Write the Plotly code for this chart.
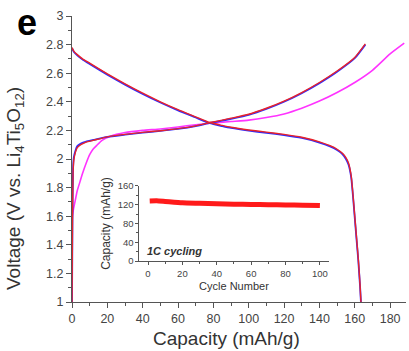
import plotly.graph_objects as go

# Main panel: discharge curves (capacity mAh/g, voltage V)
dis_x = [0, 1, 3, 6, 10, 20, 30, 40, 50, 60, 70, 78, 85, 90, 100, 110, 120, 130, 140, 146, 150, 153, 155, 156.5, 158, 159, 160, 161, 162, 163, 163.5]
dis_red_y = [2.78, 2.755, 2.73, 2.70, 2.67, 2.595, 2.525, 2.46, 2.40, 2.345, 2.295, 2.255, 2.235, 2.222, 2.203, 2.188, 2.172, 2.152, 2.12, 2.093, 2.068, 2.04, 2.01, 1.97, 1.88, 1.75, 1.6, 1.45, 1.3, 1.12, 1.0]
dis_blue_y = [2.775, 2.75, 2.725, 2.695, 2.665, 2.59, 2.52, 2.455, 2.395, 2.34, 2.29, 2.25, 2.23, 2.217, 2.198, 2.183, 2.167, 2.147, 2.115, 2.088, 2.063, 2.035, 2.0, 1.96, 1.87, 1.74, 1.59, 1.44, 1.29, 1.11, 1.0]

# Charge curves
ch_x = [0, 0.3, 0.6, 1, 2, 3, 5, 8, 12, 20, 30, 40, 50, 60, 70, 78, 85, 90, 100, 110, 120, 130, 140, 150, 160, 166]
ch_red_y = [1.0, 1.6, 1.9, 1.99, 2.05, 2.08, 2.1, 2.118, 2.13, 2.155, 2.172, 2.186, 2.198, 2.212, 2.232, 2.255, 2.272, 2.285, 2.313, 2.355, 2.405, 2.465, 2.535, 2.615, 2.71, 2.805]
ch_blue_y = [1.0, 1.65, 1.93, 2.01, 2.06, 2.09, 2.108, 2.122, 2.133, 2.155, 2.17, 2.184, 2.196, 2.21, 2.23, 2.252, 2.268, 2.281, 2.309, 2.35, 2.4, 2.46, 2.53, 2.61, 2.705, 2.8]

mg_x = [0, 0.2, 1, 2, 3, 4.5, 6, 8, 10, 12, 14, 17, 21.5, 30, 40, 50, 60, 70, 78, 90, 100, 110, 120, 130, 140, 150, 160, 170, 180, 188]
mg_y = [1.0, 1.6, 1.66, 1.72, 1.78, 1.84, 1.9, 1.97, 2.03, 2.07, 2.095, 2.13, 2.158, 2.185, 2.2, 2.21, 2.224, 2.24, 2.25, 2.262, 2.272, 2.29, 2.315, 2.355, 2.405, 2.465, 2.535, 2.62, 2.735, 2.81]

# Inset: cycling
cyc_x = [1, 5, 10, 20, 30, 40, 50, 60, 70, 80, 90, 100]
cyc_y = [128, 128.5, 127, 124, 123, 122, 121, 120.5, 120, 119.5, 119, 118]

x_ticks = [0, 20, 40, 60, 80, 100, 120, 140, 160, 180]
y_ticks = [1, 1.2, 1.4, 1.6, 1.8, 2, 2.2, 2.4, 2.6, 2.8, 3]
y_labels = ["1", "1.2", "1.4", "1.6", "1.8", "2", "2.2", "2.4", "2.6", "2.8", "3"]
inset_x_ticks = [0, 20, 40, 60, 80, 100]
inset_y_ticks = [0, 40, 80, 120, 160]

FONT = "Liberation Sans, Arial, sans-serif"
fig = go.Figure()

def add(x, y, color, width=1.6, xa="x", ya="y"):
    fig.add_trace(go.Scatter(x=x, y=y, mode="lines", xaxis=xa, yaxis=ya,
                             line=dict(color=color, width=width, shape="spline", smoothing=0.5),
                             showlegend=False, hoverinfo="skip"))

add(mg_x, mg_y, "#ff33ff", 1.6)
add(dis_x, dis_blue_y, "#2b2bff", 1.8)
add(ch_x, ch_blue_y, "#2b2bff", 1.8)
add(dis_x, dis_red_y, "#e8232a", 1.4)
add(ch_x, ch_red_y, "#e8232a", 1.4)
add(cyc_x, cyc_y, "#ff1a1a", 5, "x2", "y2")

axcol = "#555555"
fig.update_layout(
    width=409, height=351,
    margin=dict(l=72, r=3, t=16, b=49),
    paper_bgcolor="white", plot_bgcolor="white",
    font=dict(family=FONT, color="#444444"),
    xaxis=dict(range=[0, 189], tickvals=x_ticks, showgrid=False, zeroline=False,
               showline=True, linecolor=axcol, linewidth=1.2,
               ticks="outside", ticklen=5, tickcolor=axcol, tickwidth=1,
               minor=dict(ticks="outside", ticklen=3, dtick=10, tickcolor=axcol, showgrid=False),
               tickfont=dict(size=12.5, color="#444444")),
    yaxis=dict(range=[1, 3], tickvals=y_ticks, ticktext=y_labels, showgrid=False, zeroline=False,
               showline=True, linecolor=axcol, linewidth=1.2,
               ticks="outside", ticklen=5, tickcolor=axcol, tickwidth=1,
               minor=dict(ticks="outside", ticklen=3, dtick=0.1, tickcolor=axcol, showgrid=False),
               tickfont=dict(size=12.5, color="#444444")),
    xaxis2=dict(domain=[0.2018, 0.768], anchor="y2", range=[-5, 105], tickvals=inset_x_ticks,
                showgrid=False, zeroline=False, showline=True, linecolor=axcol, linewidth=1,
                ticks="outside", ticklen=3, tickcolor=axcol,
                minor=dict(ticks="outside", ticklen=2, dtick=10, tickcolor=axcol, showgrid=False),
                tickfont=dict(size=9.5, color="#444444"),
                title=dict(text="Cycle Number", font=dict(size=11, color="#333333"), standoff=4)),
    yaxis2=dict(domain=[0.143, 0.406], anchor="x2", range=[0, 160], tickvals=inset_y_ticks,
                showgrid=False, zeroline=False, showline=True, linecolor=axcol, linewidth=1,
                ticks="outside", ticklen=3, tickcolor=axcol,
                minor=dict(ticks="outside", ticklen=2, dtick=20, tickcolor=axcol, showgrid=False),
                tickfont=dict(size=9.5, color="#444444"),
                title=dict(text="Capacity (mAh/g)", font=dict(size=12, color="#333333"), standoff=4)),
    annotations=[
        dict(text="<b>e</b>", xref="paper", yref="paper", x=-0.17, y=1.055, xanchor="left", yanchor="top",
             showarrow=False, font=dict(size=36, color="black", family=FONT)),
        dict(text="Capacity (mAh/g)", xref="paper", yref="paper", x=(226 - 72) / 334, y=-0.127,
             xanchor="center", yanchor="middle", showarrow=False,
             font=dict(size=19, color="#333333", family=FONT)),
        dict(text="Voltage (V vs. Li<sub>4</sub>Ti<sub>5</sub>O<sub>12</sub>)", xref="paper", yref="paper",
             x=(15 - 72) / 334, y=(302 - 189) / 286, xanchor="center", yanchor="middle", textangle=-90,
             showarrow=False, font=dict(size=19, color="#333333", family=FONT)),
        dict(text="<b><i>1C cycling</i></b>", xref="x2", yref="y2", x=-1.5, y=22, xanchor="left",
             yanchor="middle", showarrow=False, font=dict(size=11, color="#333333", family=FONT)),
    ],
)

fig.write_html("out.html")
